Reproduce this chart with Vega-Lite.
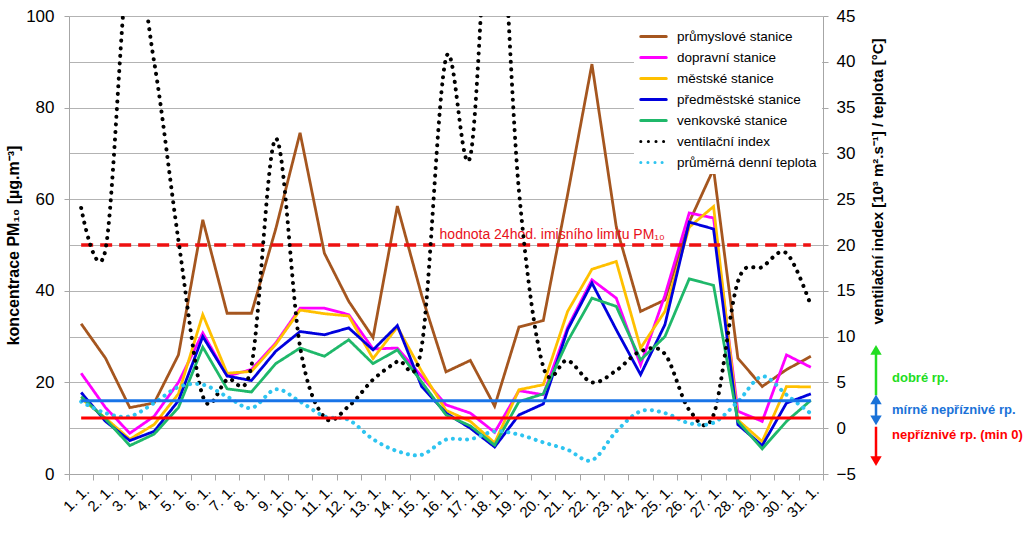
{
  "$schema": "https://vega.github.io/schema/vega-lite/v6.json",
  "padding": {"top": 7, "left": 5, "right": 3, "bottom": 3},
  "config": {
    "font": "Liberation Sans",
    "view": {"stroke": null},
    "axis": {"domainColor": "#a6a6a6", "tickColor": "#a6a6a6", "gridColor": "#b3b3b3", "labelColor": "#000000", "titleColor": "#000000"}
  },
  "datasets": {
    "pm": [
      {"day":"1. 1.","series":"průmyslové stanice","value":32.8},{"day":"2. 1.","series":"průmyslové stanice","value":25.3},{"day":"3. 1.","series":"průmyslové stanice","value":14.5},{"day":"4. 1.","series":"průmyslové stanice","value":15.5},{"day":"5. 1.","series":"průmyslové stanice","value":26.0},{"day":"6. 1.","series":"průmyslové stanice","value":55.5},{"day":"7. 1.","series":"průmyslové stanice","value":35.1},{"day":"8. 1.","series":"průmyslové stanice","value":35.1},{"day":"9. 1.","series":"průmyslové stanice","value":53.5},{"day":"10. 1.","series":"průmyslové stanice","value":74.5},{"day":"11. 1.","series":"průmyslové stanice","value":48.2},{"day":"12. 1.","series":"průmyslové stanice","value":37.7},{"day":"13. 1.","series":"průmyslové stanice","value":29.8},{"day":"14. 1.","series":"průmyslové stanice","value":58.5},{"day":"15. 1.","series":"průmyslové stanice","value":39.0},{"day":"16. 1.","series":"průmyslové stanice","value":22.3},{"day":"17. 1.","series":"průmyslové stanice","value":24.8},{"day":"18. 1.","series":"průmyslové stanice","value":14.8},{"day":"19. 1.","series":"průmyslové stanice","value":32.1},{"day":"20. 1.","series":"průmyslové stanice","value":33.5},{"day":"21. 1.","series":"průmyslové stanice","value":61.0},{"day":"22. 1.","series":"průmyslové stanice","value":89.5},{"day":"23. 1.","series":"průmyslové stanice","value":54.0},{"day":"24. 1.","series":"průmyslové stanice","value":35.5},{"day":"25. 1.","series":"průmyslové stanice","value":38.0},{"day":"26. 1.","series":"průmyslové stanice","value":55.0},{"day":"27. 1.","series":"průmyslové stanice","value":66.6},{"day":"28. 1.","series":"průmyslové stanice","value":25.3},{"day":"29. 1.","series":"průmyslové stanice","value":19.1},{"day":"30. 1.","series":"průmyslové stanice","value":22.8},{"day":"31. 1.","series":"průmyslové stanice","value":25.7},
      {"day":"1. 1.","series":"dopravní stanice","value":22.0},{"day":"2. 1.","series":"dopravní stanice","value":14.5},{"day":"3. 1.","series":"dopravní stanice","value":8.9},{"day":"4. 1.","series":"dopravní stanice","value":12.6},{"day":"5. 1.","series":"dopravní stanice","value":20.0},{"day":"6. 1.","series":"dopravní stanice","value":30.8},{"day":"7. 1.","series":"dopravní stanice","value":21.4},{"day":"8. 1.","series":"dopravní stanice","value":22.8},{"day":"9. 1.","series":"dopravní stanice","value":28.6},{"day":"10. 1.","series":"dopravní stanice","value":36.2},{"day":"11. 1.","series":"dopravní stanice","value":36.2},{"day":"12. 1.","series":"dopravní stanice","value":34.8},{"day":"13. 1.","series":"dopravní stanice","value":27.3},{"day":"14. 1.","series":"dopravní stanice","value":27.5},{"day":"15. 1.","series":"dopravní stanice","value":21.3},{"day":"16. 1.","series":"dopravní stanice","value":15.1},{"day":"17. 1.","series":"dopravní stanice","value":13.3},{"day":"18. 1.","series":"dopravní stanice","value":9.1},{"day":"19. 1.","series":"dopravní stanice","value":18.2},{"day":"20. 1.","series":"dopravní stanice","value":17.3},{"day":"21. 1.","series":"dopravní stanice","value":32.0},{"day":"22. 1.","series":"dopravní stanice","value":42.4},{"day":"23. 1.","series":"dopravní stanice","value":38.4},{"day":"24. 1.","series":"dopravní stanice","value":23.8},{"day":"25. 1.","series":"dopravní stanice","value":39.0},{"day":"26. 1.","series":"dopravní stanice","value":57.0},{"day":"27. 1.","series":"dopravní stanice","value":55.9},{"day":"28. 1.","series":"dopravní stanice","value":13.7},{"day":"29. 1.","series":"dopravní stanice","value":11.5},{"day":"30. 1.","series":"dopravní stanice","value":26.0},{"day":"31. 1.","series":"dopravní stanice","value":23.3},
      {"day":"1. 1.","series":"městské stanice","value":16.5},{"day":"2. 1.","series":"městské stanice","value":12.2},{"day":"3. 1.","series":"městské stanice","value":7.6},{"day":"4. 1.","series":"městské stanice","value":10.8},{"day":"5. 1.","series":"městské stanice","value":17.5},{"day":"6. 1.","series":"městské stanice","value":34.8},{"day":"7. 1.","series":"městské stanice","value":22.0},{"day":"8. 1.","series":"městské stanice","value":22.4},{"day":"9. 1.","series":"městské stanice","value":28.3},{"day":"10. 1.","series":"městské stanice","value":35.8},{"day":"11. 1.","series":"městské stanice","value":35.0},{"day":"12. 1.","series":"městské stanice","value":34.5},{"day":"13. 1.","series":"městské stanice","value":25.2},{"day":"14. 1.","series":"městské stanice","value":32.1},{"day":"15. 1.","series":"městské stanice","value":22.4},{"day":"16. 1.","series":"městské stanice","value":13.9},{"day":"17. 1.","series":"městské stanice","value":11.5},{"day":"18. 1.","series":"městské stanice","value":6.8},{"day":"19. 1.","series":"městské stanice","value":18.4},{"day":"20. 1.","series":"městské stanice","value":19.5},{"day":"21. 1.","series":"městské stanice","value":35.5},{"day":"22. 1.","series":"městské stanice","value":44.7},{"day":"23. 1.","series":"městské stanice","value":46.4},{"day":"24. 1.","series":"městské stanice","value":27.5},{"day":"25. 1.","series":"městské stanice","value":35.5},{"day":"26. 1.","series":"městské stanice","value":53.9},{"day":"27. 1.","series":"městské stanice","value":58.4},{"day":"28. 1.","series":"městské stanice","value":11.8},{"day":"29. 1.","series":"městské stanice","value":7.1},{"day":"30. 1.","series":"městské stanice","value":19.1},{"day":"31. 1.","series":"městské stanice","value":19.0},
      {"day":"1. 1.","series":"předměstské stanice","value":17.8},{"day":"2. 1.","series":"předměstské stanice","value":11.5},{"day":"3. 1.","series":"předměstské stanice","value":7.3},{"day":"4. 1.","series":"předměstské stanice","value":9.3},{"day":"5. 1.","series":"předměstské stanice","value":16.0},{"day":"6. 1.","series":"předměstské stanice","value":30.0},{"day":"7. 1.","series":"předměstské stanice","value":21.4},{"day":"8. 1.","series":"předměstské stanice","value":20.4},{"day":"9. 1.","series":"předměstské stanice","value":26.8},{"day":"10. 1.","series":"předměstské stanice","value":31.1},{"day":"11. 1.","series":"předměstské stanice","value":30.4},{"day":"12. 1.","series":"předměstské stanice","value":31.9},{"day":"13. 1.","series":"předměstské stanice","value":27.1},{"day":"14. 1.","series":"předměstské stanice","value":32.4},{"day":"15. 1.","series":"předměstské stanice","value":19.1},{"day":"16. 1.","series":"předměstské stanice","value":13.3},{"day":"17. 1.","series":"předměstské stanice","value":10.0},{"day":"18. 1.","series":"předměstské stanice","value":5.9},{"day":"19. 1.","series":"předměstské stanice","value":12.9},{"day":"20. 1.","series":"předměstské stanice","value":15.3},{"day":"21. 1.","series":"předměstské stanice","value":31.5},{"day":"22. 1.","series":"předměstské stanice","value":41.7},{"day":"23. 1.","series":"předměstské stanice","value":31.5},{"day":"24. 1.","series":"předměstské stanice","value":21.7},{"day":"25. 1.","series":"předměstské stanice","value":32.6},{"day":"26. 1.","series":"předměstské stanice","value":55.0},{"day":"27. 1.","series":"předměstské stanice","value":53.5},{"day":"28. 1.","series":"předměstské stanice","value":10.8},{"day":"29. 1.","series":"předměstské stanice","value":6.2},{"day":"30. 1.","series":"předměstské stanice","value":15.5},{"day":"31. 1.","series":"předměstské stanice","value":17.5},
      {"day":"1. 1.","series":"venkovské stanice","value":16.9},{"day":"2. 1.","series":"venkovské stanice","value":12.0},{"day":"3. 1.","series":"venkovské stanice","value":6.2},{"day":"4. 1.","series":"venkovské stanice","value":8.7},{"day":"5. 1.","series":"venkovské stanice","value":14.5},{"day":"6. 1.","series":"venkovské stanice","value":27.7},{"day":"7. 1.","series":"venkovské stanice","value":18.6},{"day":"8. 1.","series":"venkovské stanice","value":17.9},{"day":"9. 1.","series":"venkovské stanice","value":24.1},{"day":"10. 1.","series":"venkovské stanice","value":27.5},{"day":"11. 1.","series":"venkovské stanice","value":25.7},{"day":"12. 1.","series":"venkovské stanice","value":29.3},{"day":"13. 1.","series":"venkovské stanice","value":24.1},{"day":"14. 1.","series":"venkovské stanice","value":27.1},{"day":"15. 1.","series":"venkovské stanice","value":20.1},{"day":"16. 1.","series":"venkovské stanice","value":12.9},{"day":"17. 1.","series":"venkovské stanice","value":10.5},{"day":"18. 1.","series":"venkovské stanice","value":6.3},{"day":"19. 1.","series":"venkovské stanice","value":15.8},{"day":"20. 1.","series":"venkovské stanice","value":17.5},{"day":"21. 1.","series":"venkovské stanice","value":29.0},{"day":"22. 1.","series":"venkovské stanice","value":38.4},{"day":"23. 1.","series":"venkovské stanice","value":36.6},{"day":"24. 1.","series":"venkovské stanice","value":24.9},{"day":"25. 1.","series":"venkovské stanice","value":30.0},{"day":"26. 1.","series":"venkovské stanice","value":42.6},{"day":"27. 1.","series":"venkovské stanice","value":41.2},{"day":"28. 1.","series":"venkovské stanice","value":11.5},{"day":"29. 1.","series":"venkovské stanice","value":5.5},{"day":"30. 1.","series":"venkovské stanice","value":11.5},{"day":"31. 1.","series":"venkovské stanice","value":16.1}
    ],
    "meteo": [
      {"day":"1. 1.","series":"ventilační index","value":24.05},{"day":"2. 1.","series":"ventilační index","value":19.5},{"day":"3. 1.","series":"ventilační index","value":52},{"day":"4. 1.","series":"ventilační index","value":40},{"day":"5. 1.","series":"ventilační index","value":20.5},{"day":"6. 1.","series":"ventilační index","value":3.5},{"day":"7. 1.","series":"ventilační index","value":5.3},{"day":"8. 1.","series":"ventilační index","value":6.8},{"day":"9. 1.","series":"ventilační index","value":31.6},{"day":"10. 1.","series":"ventilační index","value":8.9},{"day":"11. 1.","series":"ventilační index","value":1.2},{"day":"12. 1.","series":"ventilační index","value":2.4},{"day":"13. 1.","series":"ventilační index","value":5.3},{"day":"14. 1.","series":"ventilační index","value":7.3},{"day":"15. 1.","series":"ventilační index","value":8.9},{"day":"16. 1.","series":"ventilační index","value":40.4},{"day":"17. 1.","series":"ventilační index","value":29.7},{"day":"18. 1.","series":"ventilační index","value":64},{"day":"19. 1.","series":"ventilační index","value":25.9},{"day":"20. 1.","series":"ventilační index","value":6.7},{"day":"21. 1.","series":"ventilační index","value":7.4},{"day":"22. 1.","series":"ventilační index","value":5.0},{"day":"23. 1.","series":"ventilační index","value":6.3},{"day":"24. 1.","series":"ventilační index","value":8.4},{"day":"25. 1.","series":"ventilační index","value":8.1},{"day":"26. 1.","series":"ventilační index","value":2.0},{"day":"27. 1.","series":"ventilační index","value":1.45},{"day":"28. 1.","series":"ventilační index","value":16.0},{"day":"29. 1.","series":"ventilační index","value":17.6},{"day":"30. 1.","series":"ventilační index","value":19.1},{"day":"31. 1.","series":"ventilační index","value":13.4},
      {"day":"1. 1.","series":"průměrná denní teplota","value":2.9},{"day":"2. 1.","series":"průměrná denní teplota","value":1.65},{"day":"3. 1.","series":"průměrná denní teplota","value":1.3},{"day":"4. 1.","series":"průměrná denní teplota","value":2.75},{"day":"5. 1.","series":"průměrná denní teplota","value":4.5},{"day":"6. 1.","series":"průměrná denní teplota","value":4.75},{"day":"7. 1.","series":"průměrná denní teplota","value":3.45},{"day":"8. 1.","series":"průměrná denní teplota","value":2.2},{"day":"9. 1.","series":"průměrná denní teplota","value":4.25},{"day":"10. 1.","series":"průměrná denní teplota","value":2.9},{"day":"11. 1.","series":"průměrná denní teplota","value":1.3},{"day":"12. 1.","series":"průměrná denní teplota","value":0.9},{"day":"13. 1.","series":"průměrná denní teplota","value":-1.2},{"day":"14. 1.","series":"průměrná denní teplota","value":-2.5},{"day":"15. 1.","series":"průměrná denní teplota","value":-2.9},{"day":"16. 1.","series":"průměrná denní teplota","value":-1.25},{"day":"17. 1.","series":"průměrná denní teplota","value":-1.2},{"day":"18. 1.","series":"průměrná denní teplota","value":-0.35},{"day":"19. 1.","series":"průměrná denní teplota","value":-0.7},{"day":"20. 1.","series":"průměrná denní teplota","value":-1.55},{"day":"21. 1.","series":"průměrná denní teplota","value":-2.35},{"day":"22. 1.","series":"průměrná denní teplota","value":-3.5},{"day":"23. 1.","series":"průměrná denní teplota","value":-0.35},{"day":"24. 1.","series":"průměrná denní teplota","value":1.85},{"day":"25. 1.","series":"průměrná denní teplota","value":1.65},{"day":"26. 1.","series":"průměrná denní teplota","value":0.55},{"day":"27. 1.","series":"průměrná denní teplota","value":0.6},{"day":"28. 1.","series":"průměrná denní teplota","value":2.9},{"day":"29. 1.","series":"průměrná denní teplota","value":5.65},{"day":"30. 1.","series":"průměrná denní teplota","value":3.65},{"day":"31. 1.","series":"průměrná denní teplota","value":1.6}
    ],
    "limits": [
      {"day":"1. 1.","pm_limit":50,"vi_mid":3,"vi_low":1.1},
      {"day":"31. 1.","pm_limit":50,"vi_mid":3,"vi_low":1.1}
    ],
    "zones": [
      {"zone":"dobré rp.","lo":3.6,"hi":8.7,"label_at":5.47},
      {"zone":"mírně nepříznivé rp.","lo":0.8,"hi":3.2,"label_at":1.94},
      {"zone":"nepříznivé rp. (min 0)","lo":-3.6,"hi":0.16,"label_at":-0.71}
    ],
    "heads": [
      {"zone":"dobré rp.","at":8.55,"dir":"up"},
      {"zone":"mírně nepříznivé rp.","at":3.15,"dir":"up"},
      {"zone":"mírně nepříznivé rp.","at":0.85,"dir":"down"},
      {"zone":"nepříznivé rp. (min 0)","at":-3.6,"dir":"down"}
    ]
  },
  "bounds": "flush",
  "spacing": 48,
  "resolve": {"scale": {"x": "independent", "y": "independent", "color": "independent", "strokeDash": "independent", "shape": "independent"}, "legend": {"color": "independent", "strokeDash": "independent", "shape": "independent"}},
  "hconcat": [
    {
      "width": 754,
      "height": 458,
      "resolve": {"scale": {"y": "independent"}},
      "layer": [
        {
          "layer": [
            {
              "data": {"name": "pm"},
              "mark": {"type": "line", "strokeWidth": 2.8, "clip": true},
              "encoding": {
                "x": {"field": "day", "type": "ordinal",
                  "scale": {"type": "band", "domain": ["1. 1.","2. 1.","3. 1.","4. 1.","5. 1.","6. 1.","7. 1.","8. 1.","9. 1.","10. 1.","11. 1.","12. 1.","13. 1.","14. 1.","15. 1.","16. 1.","17. 1.","18. 1.","19. 1.","20. 1.","21. 1.","22. 1.","23. 1.","24. 1.","25. 1.","26. 1.","27. 1.","28. 1.","29. 1.","30. 1.","31. 1."], "paddingInner": 0, "paddingOuter": 0},
                  "axis": {"title": null, "labelAngle": -45, "labelFontSize": 15, "tickBand": "extent", "tickSize": 6, "labelPadding": 3, "grid": false}},
                "y": {"field": "value", "type": "quantitative",
                  "scale": {"domain": [0, 100], "nice": false},
                  "axis": {"orient": "left", "values": [0, 20, 40, 60, 80, 100], "grid": false, "tickSize": 5, "labelFontSize": 17, "labelPadding": 10, "title": "koncentrace PM₁₀ [µg.m⁻³]", "titleFontSize": 16, "titleFontWeight": "bold", "titlePadding": 4}},
                "color": {"field": "series", "type": "nominal",
                  "scale": {"domain": ["průmyslové stanice","dopravní stanice","městské stanice","předměstské stanice","venkovské stanice","ventilační index","průměrná denní teplota"],
                            "range": ["#A5561F","#FF00FF","#FFC000","#0000DD","#1FB86A","#000000","#2EC4F0"]},
                  "legend": {"orient": "top-right", "offset": 1, "title": null, "fillColor": "#ffffff", "padding": 5, "symbolType": "stroke", "symbolSize": 650, "symbolStrokeWidth": 3, "labelFontSize": 13.5, "labelOffset": 9, "rowPadding": -1, "labelLimit": 300,
                    "encode": {"symbols": {"update": {"strokeCap": {"value": "round"}}}}}},
                "strokeDash": {"field": "series", "type": "nominal",
                  "scale": {"domain": ["průmyslové stanice","dopravní stanice","městské stanice","předměstské stanice","venkovské stanice","ventilační index","průměrná denní teplota"],
                            "range": [[1,0],[1,0],[1,0],[1,0],[1,0],[0.1,7.5],[0.1,7]]},
                  "legend": {"orient": "top-right", "offset": 1, "title": null, "fillColor": "#ffffff", "padding": 5, "symbolType": "stroke", "symbolSize": 650, "symbolStrokeWidth": 3, "labelFontSize": 13.5, "labelOffset": 9, "rowPadding": -1, "labelLimit": 300,
                    "encode": {"symbols": {"update": {"strokeCap": {"value": "round"}}}}}}
              }
            },
            {
              "data": {"name": "limits"},
              "mark": {"type": "line", "color": "#EE1111", "strokeWidth": 3.5, "strokeDash": [12, 7]},
              "encoding": {
                "x": {"field": "day", "type": "ordinal"},
                "y": {"field": "pm_limit", "type": "quantitative"}
              }
            },
            {
              "data": {"name": "limits"},
              "transform": [{"filter": "datum.day === '1. 1.'"}],
              "mark": {"type": "text", "text": "hodnota 24hod. imisního limitu PM₁₀", "align": "right", "baseline": "bottom", "dy": -3, "color": "#E8101A", "fontSize": 14},
              "encoding": {
                "x": {"datum": "25. 1.", "type": "ordinal", "bandPosition": 0.5},
                "y": {"field": "pm_limit", "type": "quantitative"}
              }
            }
          ]
        },
        {
          "layer": [
            {
              "data": {"name": "meteo"},
              "mark": {"type": "line", "interpolate": "cardinal", "strokeWidth": 4, "strokeCap": "round", "clip": true},
              "encoding": {
                "x": {"field": "day", "type": "ordinal"},
                "y": {"field": "value", "type": "quantitative",
                  "scale": {"domain": [-5, 45], "nice": false},
                  "axis": {"orient": "right", "values": [-5,0,5,10,15,20,25,30,35,40,45], "grid": true, "tickSize": 5, "labelFontSize": 17, "labelPadding": 8, "title": "ventilační index [10³ m².s⁻¹] / teplota [°C]", "titleFontSize": 15, "titleFontWeight": "bold", "titleAngle": 270, "titleX": 54, "titleY": 165, "titleBaseline": "middle", "titleAlign": "center"}},
                "color": {"field": "series", "type": "nominal"},
                "strokeDash": {"field": "series", "type": "nominal"}
              }
            },
            {
              "data": {"name": "limits"},
              "mark": {"type": "line", "color": "#1874E8", "strokeWidth": 3},
              "encoding": {
                "x": {"field": "day", "type": "ordinal"},
                "y": {"field": "vi_mid", "type": "quantitative"}
              }
            },
            {
              "data": {"name": "limits"},
              "mark": {"type": "line", "color": "#FF0000", "strokeWidth": 3},
              "encoding": {
                "x": {"field": "day", "type": "ordinal"},
                "y": {"field": "vi_low", "type": "quantitative"}
              }
            }
          ]
        }
      ]
    },
    {
      "width": 10,
      "height": 458,
      "layer": [
        {
          "data": {"name": "zones"},
          "mark": {"type": "rule", "strokeWidth": 2.5},
          "encoding": {
            "x": {"datum": 0, "type": "quantitative", "scale": {"domain": [-1, 1]}, "axis": null},
            "y": {"field": "lo", "type": "quantitative", "scale": {"domain": [-5, 45], "nice": false}, "axis": null},
            "y2": {"field": "hi"},
            "color": {"field": "zone", "type": "nominal", "scale": {"domain": ["dobré rp.","mírně nepříznivé rp.","nepříznivé rp. (min 0)"], "range": ["#22DD22","#1A72D8","#FF0000"]}, "legend": null}
          }
        },
        {
          "data": {"name": "heads"},
          "mark": {"type": "point", "filled": true, "opacity": 1, "size": 130},
          "encoding": {
            "x": {"datum": 0, "type": "quantitative"},
            "y": {"field": "at", "type": "quantitative"},
            "shape": {"field": "dir", "type": "nominal", "scale": {"domain": ["up","down"], "range": ["triangle-up","triangle-down"]}, "legend": null},
            "color": {"field": "zone", "type": "nominal", "legend": null}
          }
        },
        {
          "data": {"name": "zones"},
          "mark": {"type": "text", "align": "left", "baseline": "middle", "dx": 16, "fontSize": 13, "fontWeight": "bold"},
          "encoding": {
            "x": {"datum": 0, "type": "quantitative"},
            "y": {"field": "label_at", "type": "quantitative"},
            "text": {"field": "zone"},
            "color": {"field": "zone", "type": "nominal", "scale": {"domain": ["dobré rp.","mírně nepříznivé rp.","nepříznivé rp. (min 0)"], "range": ["#33CC33","#1A6FD0","#E8102A"]}, "legend": null}
          }
        }
      ]
    }
  ]
}
